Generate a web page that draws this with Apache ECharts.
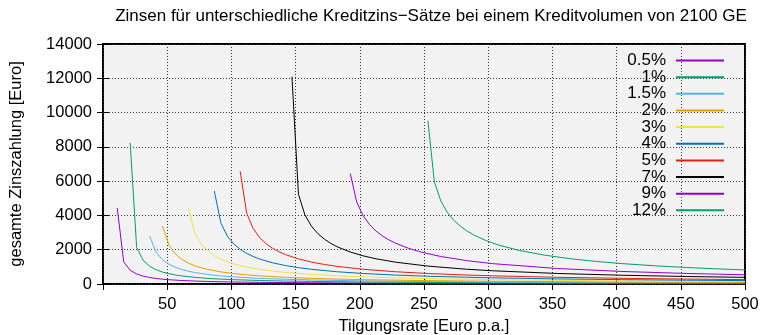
<!DOCTYPE html>
<html>
<head>
<meta charset="utf-8">
<script src="https://cdn.jsdelivr.net/npm/echarts@6/dist/echarts.min.js"></script>
<style>
html,body{margin:0;padding:0;background:#fff;}
#chart{width:761px;height:335px;}
</style>
</head>
<body>
<div id="chart"></div>
<script>
// Series names (interest rates)
const rateNames = ['0.5%', '1%', '1.5%', '2%', '3%', '4%', '5%', '7%', '9%', '12%'];
const rateColors = ['#9400d3', '#009e73', '#56b4e9', '#e69f00', '#f0e442', '#0072b2', '#e51e10', '#000000', '#9400d3', '#009e73'];

// [Tilgungsrate, Zinszahlung] pairs
const s05 = [[11.08,4437],[16.12,1297],[21.16,802],[26.20,583],[31.24,459],[36.28,379],[41.32,323],[46.36,281],[51.40,249],[61.48,203],[71.57,171],[81.65,148],[101.81,116],[121.97,96],[152.21,76],[202.62,56],[253.02,45],[303.42,37],[404.23,28],[500,22]];
const s1 = [[21.16,8237],[26.20,2137],[31.24,1385],[36.28,1037],[41.32,832],[46.36,697],[51.40,600],[56.44,526],[61.48,469],[71.57,386],[81.65,327],[91.73,285],[101.81,252],[121.97,205],[142.13,172],[162.29,149],[202.62,117],[253.02,92],[303.42,76],[404.23,57],[500,45]];
const s15 = [[36.28,2802],[41.32,1858],[46.36,1416],[51.40,1152],[56.44,973],[61.48,844],[66.53,745],[71.57,668],[81.65,553],[91.73,473],[101.81,413],[121.97,329],[142.13,274],[162.29,235],[202.62,182],[253.02,143],[303.42,117],[404.23,86],[500,69]];
const s2 = [[46.36,3380],[51.40,2266],[56.44,1747],[61.48,1433],[66.53,1219],[71.57,1063],[76.61,944],[81.65,849],[91.73,708],[101.81,608],[111.89,533],[121.97,474],[142.13,389],[162.29,330],[182.45,287],[202.62,253],[253.02,196],[303.42,160],[404.23,117],[500,93]];
const s3 = [[66.53,4412],[71.57,2963],[76.61,2313],[81.65,1919],[86.69,1649],[91.73,1450],[96.77,1296],[101.81,1173],[111.89,988],[121.97,855],[132.05,754],[142.13,675],[162.29,558],[182.45,476],[202.62,415],[227.82,358],[253.02,315],[303.42,254],[353.83,213],[404.23,183],[454.64,161],[500,145]];
const s4 = [[86.69,5426],[91.73,3573],[96.77,2800],[101.81,2337],[106.85,2020],[111.89,1786],[116.93,1604],[121.97,1458],[132.05,1237],[142.13,1077],[152.21,954],[162.29,858],[182.45,714],[202.62,612],[227.82,520],[253.02,452],[303.42,359],[353.83,297],[404.23,254],[454.64,222],[500,199]];
const s5 = [[106.85,6569],[111.89,4138],[116.93,3238],[121.97,2711],[127.01,2352],[132.05,2087],[137.09,1881],[142.13,1716],[152.21,1464],[162.29,1280],[172.37,1139],[182.45,1027],[202.62,859],[227.82,715],[253.02,613],[283.26,524],[303.42,477],[353.83,391],[404.23,332],[454.64,288],[500,257]];
const s7 = [[147.17,12099],[152.21,5238],[157.25,4034],[162.29,3377],[167.33,2939],[172.37,2618],[177.41,2370],[182.45,2170],[192.54,1866],[202.62,1642],[212.70,1470],[227.82,1273],[253.02,1044],[283.26,861],[303.42,772],[353.83,614],[404.23,510],[454.64,437],[500,387]];
const s9 = [[192.54,6449],[197.58,4786],[202.62,3978],[207.66,3460],[212.70,3086],[217.74,2799],[222.78,2569],[227.82,2380],[237.90,2082],[247.98,1857],[263.10,1604],[283.26,1363],[303.42,1188],[353.83,903],[404.23,731],[454.64,615],[500,538]];
const s12 = [[253.02,9526],[258.06,5968],[263.10,4841],[268.14,4179],[273.18,3721],[278.22,3376],[283.26,3103],[288.30,2878],[298.38,2529],[308.46,2265],[323.59,1968],[343.75,1684],[363.91,1476],[384.07,1317],[404.23,1190],[429.43,1063],[454.64,962],[479.84,878],[500,822]];

const seriesData = [s05, s1, s15, s2, s3, s4, s5, s7, s9, s12];

const titleText = 'Zinsen für unterschiedliche Kreditzins\u2212Sätze bei einem Kreditvolumen von 2100 GE';
const xName = 'Tilgungsrate [Euro p.a.]';
const yName = 'gesamte Zinszahlung [Euro]';

const FONT = 'Liberation Sans, Arial, Helvetica, sans-serif';
const FS = 16.5;

const chart = echarts.init(document.getElementById('chart'), null, {renderer: 'canvas'});

const dotted = {show: true, lineStyle: {color: '#333', type: [1, 2], width: 1}};
const tick = {show: true, inside: true, length: 6, lineStyle: {color: '#000', width: 1}};

const option = {
  animation: false,
  backgroundColor: '#ffffff',
  textStyle: {fontFamily: FONT},
  title: {
    text: titleText,
    left: 431, top: 8, padding: 0,
    textAlign: 'center',
    textStyle: {fontSize: 17, fontWeight: 'normal', color: '#000', fontFamily: FONT}
  },
  grid: {
    left: 103, right: 16, top: 44, bottom: 51,
    outerBoundsMode: 'none', containLabel: false,
    show: true, backgroundColor: '#f2f2f2', borderColor: '#000', borderWidth: 2
  },
  legend: {
    orient: 'vertical', right: 36, top: 52, padding: 0,
    align: 'right',
    itemWidth: 48, itemHeight: 14, itemGap: -0.35,
    data: rateNames,
    itemStyle: {color: 'rgba(0,0,0,0)', borderColor: 'rgba(0,0,0,0)', borderWidth: 0, opacity: 0},
    textStyle: {fontSize: 17, color: '#000', fontFamily: FONT, padding: [0, 5, 0, 0]}
  },
  xAxis: [{
    type: 'value', min: 0, max: 500, interval: 50, position: 'bottom',
    name: xName, nameLocation: 'middle', nameGap: 33,
    nameTextStyle: {fontSize: FS, color: '#000', fontFamily: FONT},
    axisLine: {show: false}, axisTick: tick,
    axisLabel: {showMinLabel: false, fontSize: FS, color: '#000', margin: 12, fontFamily: FONT},
    splitLine: dotted
  }, {
    type: 'value', min: 0, max: 500, interval: 50, position: 'top',
    axisLine: {show: false}, axisTick: tick, axisLabel: {show: false}, splitLine: {show: false}
  }],
  yAxis: [{
    type: 'value', min: 0, max: 14000, interval: 2000, position: 'left',
    name: yName, nameLocation: 'middle', nameGap: 78,
    nameTextStyle: {fontSize: FS, color: '#000', fontFamily: FONT},
    axisLine: {show: false}, axisTick: tick,
    axisLabel: {fontSize: FS, color: '#000', margin: 11, fontFamily: FONT, formatter: v => String(v)},
    splitLine: dotted
  }, {
    type: 'value', min: 0, max: 14000, interval: 2000, position: 'right',
    axisLine: {show: false}, axisTick: tick, axisLabel: {show: false}, splitLine: {show: false}
  }],
  series: seriesData.map((d, i) => ({
    name: rateNames[i],
    type: 'line',
    data: d,
    xAxisIndex: 0, yAxisIndex: 0,
    symbol: 'none', showSymbol: false,
    color: rateColors[i],
    lineStyle: {width: 1, color: rateColors[i]},
    clip: true
  }))
};
chart.setOption(option);
</script>
</body>
</html>
